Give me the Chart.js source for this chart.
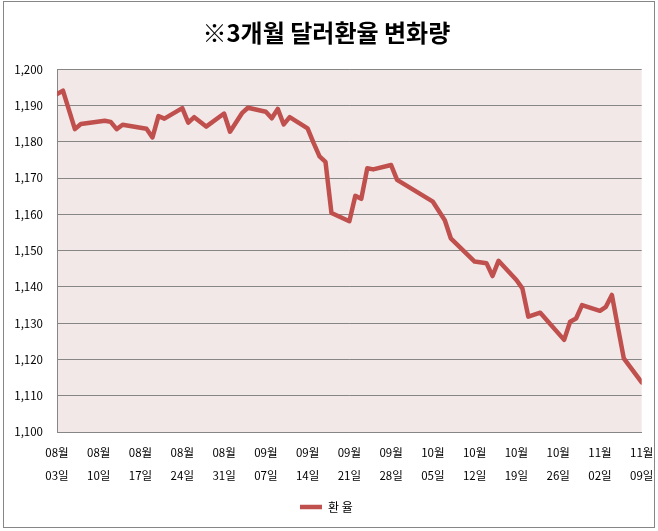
<!DOCTYPE html>
<html>
<head>
<meta charset="utf-8">
<script src="https://cdn.jsdelivr.net/npm/chart.js@4/dist/chart.umd.min.js"></script>
<style>
  html, body { margin: 0; padding: 0; background: #fff; }
  #chart-container { width: 658px; height: 531px; }
</style>
</head>
<body>
<div id="chart-container"><canvas id="rateChart" width="658" height="531"></canvas></div>
<script>
// Chart data
const chartTitle = '※3개월 달러환율 변화량';
const seriesName = '환 율';
const startDate = '2020-08-03';

const rateDates = [
  '08-03', '08-04', '08-06', '08-07', '08-11', '08-12', '08-13', '08-14',
  '08-18', '08-19', '08-20', '08-21', '08-24', '08-25', '08-26', '08-28',
  '08-31', '09-01', '09-03', '09-04', '09-07', '09-08', '09-09', '09-10',
  '09-11', '09-14', '09-15', '09-16', '09-17', '09-18', '09-21', '09-22',
  '09-23', '09-24', '09-25', '09-28', '09-29', '10-05', '10-07', '10-08',
  '10-12', '10-14', '10-15', '10-16', '10-19', '10-20', '10-21', '10-23',
  '10-27', '10-28', '10-29', '10-30', '11-02', '11-03', '11-04', '11-05',
  '11-06', '11-09'
];
const rateValues = [
  1193.2, 1194.1, 1183.5, 1184.9, 1185.8, 1185.5, 1183.5, 1184.7,
  1183.6, 1181.2, 1187.1, 1186.4, 1189.3, 1185.3, 1186.8, 1184.2,
  1187.8, 1182.8, 1187.9, 1189.4, 1188.3, 1186.5, 1189.1, 1184.8,
  1186.8, 1183.7, 1179.7, 1176.0, 1174.5, 1160.4, 1158.1, 1165.1,
  1164.3, 1172.7, 1172.4, 1173.6, 1169.5, 1163.5, 1158.4, 1153.4,
  1147.0, 1146.5, 1143.0, 1147.2, 1141.9, 1139.6, 1131.8, 1132.9,
  1125.4, 1130.4, 1131.3, 1135.0, 1133.4, 1134.5, 1137.8, 1129.0,
  1120.3, 1113.7
];

const xMonthLabels = ['08월', '08월', '08월', '08월', '08월', '09월', '09월', '09월', '09월', '10월', '10월', '10월', '10월', '11월', '11월'];
const xDayLabels = ['03일', '10일', '17일', '24일', '31일', '07일', '14일', '21일', '28일', '05일', '12일', '19일', '26일', '02일', '09일'];

const yMin = 1100;
const yMax = 1200;
const yStep = 10;
const xStep = 7;

const FONT = "'Noto Sans CJK KR', 'Noto Sans', sans-serif";

function dayOffset(mmdd) {
  const [y] = startDate.split('-').map(Number);
  const [m, d] = mmdd.split('-').map(Number);
  const base = Date.parse(startDate + 'T00:00:00Z');
  return Math.round((Date.UTC(y, m - 1, d) - base) / 86400000);
}

const points = rateDates.map((d, i) => ({ x: dayOffset(d), y: rateValues[i] }));
const lastDay = (xMonthLabels.length - 1) * xStep;

// pink plot area fill
const plotBackground = {
  id: 'plotBackground',
  beforeDraw(chart) {
    const { ctx, chartArea: a } = chart;
    ctx.save();
    ctx.fillStyle = '#f2e8e8';
    ctx.fillRect(a.left, a.top, a.right - a.left, a.bottom - a.top);
    ctx.restore();
  }
};

// outer chart frame
const chartFrame = {
  id: 'chartFrame',
  afterDraw(chart) {
    const ctx = chart.ctx;
    ctx.save();
    ctx.strokeStyle = '#868686';
    ctx.lineWidth = 1;
    ctx.strokeRect(3.5, 1.5, 651, 526);
    ctx.restore();
  }
};

const ctx = document.getElementById('rateChart').getContext('2d');
new Chart(ctx, {
  type: 'line',
  data: {
    datasets: [{
      label: seriesName,
      data: points,
      borderColor: '#c0504d',
      backgroundColor: '#c0504d',
      borderWidth: 4.5,
      borderJoinStyle: 'round',
      borderCapStyle: 'round',
      pointRadius: 0,
      tension: 0
    }]
  },
  options: {
    responsive: false,
    devicePixelRatio: 1,
    animation: false,
    layout: { padding: { left: 11, right: 16.3, top: 0, bottom: 8 } },
    plugins: {
      title: {
        display: true,
        text: chartTitle,
        color: '#000',
        font: { family: FONT, size: 24, weight: 'bold' },
        padding: { top: 18, bottom: 22.5 }
      },
      legend: {
        position: 'bottom',
        labels: {
          usePointStyle: true,
          pointStyle: 'line',
          pointStyleWidth: 22,
          boxWidth: 22,
          color: '#000',
          font: { family: FONT, size: 12 },
          padding: 10
        }
      },
      tooltip: { enabled: false }
    },
    scales: {
      x: {
        type: 'linear',
        min: 0,
        max: lastDay,
        afterFit(scale) { scale.height = 59; },
        grid: { display: false },
        border: { display: true, color: '#868686', width: 1 },
        ticks: {
          stepSize: xStep,
          autoSkip: false,
          maxRotation: 0,
          padding: 1.5,
          color: '#000',
          font: { family: FONT, size: 11.5, lineHeight: 2 },
          callback: (v, i) => [xMonthLabels[i], xDayLabels[i]]
        }
      },
      y: {
        min: yMin,
        max: yMax,
        afterFit(scale) { scale.width = 46; },
        grid: { color: '#868686', lineWidth: 1, drawTicks: false },
        border: { display: true, color: '#868686', width: 1 },
        ticks: {
          stepSize: yStep,
          padding: 14,
          color: '#000',
          font: { family: FONT, size: 11.5 },
          callback: v => v.toLocaleString('en-US')
        }
      }
    }
  },
  plugins: [plotBackground, chartFrame]
});
</script>
</body>
</html>
